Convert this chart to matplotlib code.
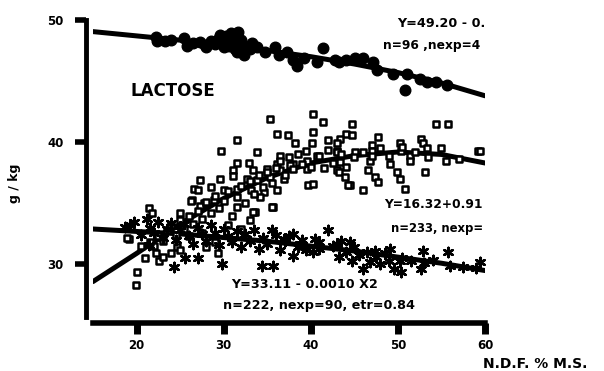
import matplotlib
matplotlib.use('Agg')
import matplotlib.pyplot as plt

# fitted curves
fit_x = [15, 20, 25, 30, 35, 40, 45, 50, 55, 60]
fit_top = [49.05, 48.7, 48.35, 47.95, 47.5, 47.0, 46.4, 45.7, 44.85, 43.8]
fit_mid = [28.6, 30.9, 33.3, 35.4, 37.1, 38.3, 38.9, 39.2, 39.0, 38.3]
fit_low = [32.9, 32.7, 32.5, 32.2, 31.9, 31.5, 31.1, 30.6, 30.1, 29.5]

# circles (n=96 series)
circ_x = [22.2, 22.4, 23.3, 24.0, 25.4, 25.8, 26.5, 27.3, 27.9, 28.0, 28.5, 29.0,
          29.5, 29.6, 30.0, 30.0, 30.3, 30.6, 30.8, 31.0, 31.1, 31.3, 31.5, 31.7,
          31.9, 32.0, 32.3, 32.5, 33.0, 33.3, 33.8, 34.8, 35.9, 36.3, 37.3, 38.0,
          38.4, 39.2, 40.7, 41.4, 42.8, 43.2, 44.1, 45.1, 46.0, 47.1, 47.6, 49.4,
          50.8, 51.0, 52.5, 53.3, 54.4, 55.6]
circ_y = [48.6, 48.3, 48.3, 48.4, 48.5, 47.9, 48.1, 48.2, 47.95, 47.8, 48.3, 48.0,
          48.5, 48.8, 47.8, 48.2, 48.7, 47.9, 48.9, 48.3, 48.4, 47.6, 47.4, 49.0,
          47.95, 48.4, 47.1, 47.8, 47.6, 48.1, 47.8, 47.4, 47.8, 47.1, 47.4, 46.7,
          46.2, 46.9, 46.6, 47.7, 46.7, 46.6, 46.7, 46.9, 46.9, 46.6, 45.9, 45.6,
          44.3, 45.6, 45.2, 44.9, 44.9, 44.7]

# open squares (n=233 series)
sq_x = [35.35, 40.3, 41.45, 36.1, 37.4, 31.5, 40.3, 42.0, 29.7, 33.8, 36.5, 38.2,
        40.1, 31.5, 32.9, 36.1, 38.0, 39.6, 40.7, 43.0, 31.1, 33.4, 35.0, 36.5,
        37.6, 39.6, 43.0, 27.3, 29.6, 31.1, 32.7, 33.8, 35.35, 36.9, 39.7, 40.3,
        26.6, 28.5, 30.0, 31.5, 33.1, 34.6, 36.1, 34.2, 26.4, 27.7, 28.85, 31.5,
        35.7, 44.7, 54.4, 55.8, 44.1, 44.7, 43.4, 47.75, 43.0, 47.0, 50.2, 52.7,
        52.9, 53.3, 55.0, 59.2, 43.0, 45.1, 47.0, 50.4, 51.4, 43.4, 46.8, 49.1,
        51.4, 43.2, 46.6, 49.9, 53.1, 43.9, 47.4, 50.2, 44.5, 46.0, 47.75, 50.8,
        21.4, 21.8, 19.1, 22.6, 20.1, 19.9, 18.9, 29.4, 33.6, 25.0, 26.2, 27.0,
        27.3, 24.7, 33.4, 35.5, 44.3, 59.4,
        22.0, 22.5, 23.0, 23.5, 24.0, 24.5, 25.0, 25.5, 26.0, 26.5, 27.0, 27.5,
        28.0, 28.5, 29.0, 29.5, 30.0, 30.5, 31.0, 31.5, 32.0, 32.5, 33.0, 33.5,
        34.0, 34.5, 35.0, 35.5, 36.0, 36.5, 37.0, 37.5, 38.0, 38.5, 39.0, 39.5,
        40.0, 41.0, 41.5, 42.0, 42.5, 43.5, 44.0, 45.0, 46.0, 47.0, 48.0, 49.0,
        50.5, 52.0, 53.5, 55.5, 57.0,
        26.0, 27.5, 29.0, 30.5, 32.0, 33.0, 28.0, 25.0, 24.0, 23.0, 22.2, 21.5,
        21.0, 20.5]
sq_y = [41.86, 42.35, 41.67, 40.7, 40.57, 40.2, 40.84, 40.2, 39.3, 39.2, 38.9, 39.9,
        39.9, 38.3, 38.3, 38.25, 38.25, 38.5, 38.9, 39.3, 37.7, 37.7, 37.8, 37.7,
        38.1, 37.8, 37.7, 36.9, 37.0, 37.2, 37.0, 36.9, 37.15, 37.0, 36.5, 36.6,
        36.2, 36.3, 36.1, 36.2, 36.1, 35.9, 36.1, 35.5, 35.25, 35.0, 35.25, 34.7,
        34.7, 41.5, 41.5, 41.5, 40.7, 40.6, 40.3, 40.4, 39.9, 39.75, 39.9, 40.3,
        39.9, 39.5, 39.5, 39.3, 39.2, 39.2, 39.3, 39.3, 38.9, 38.4, 38.5, 38.25,
        38.5, 37.6, 37.7, 37.6, 37.6, 37.15, 37.15, 37.0, 36.5, 36.1, 36.75, 36.2,
        34.6, 34.2, 32.1, 30.3, 29.4, 28.3, 32.2, 30.9, 34.3, 34.2, 35.2, 36.1,
        34.8, 31.4, 34.3, 34.7, 36.5, 39.3,
        31.5, 32.3, 31.9, 32.8, 33.2, 32.4, 33.6, 32.9, 34.0, 33.3, 34.4, 33.7,
        35.1, 34.2, 35.6, 34.6, 35.2, 36.0, 34.0, 35.5, 36.4, 35.0, 36.8, 35.8,
        37.3, 36.3, 37.6, 36.7, 37.9, 38.5, 37.3, 38.8, 37.8, 39.0, 38.2, 39.3,
        38.0, 38.9, 37.9, 39.4, 38.3, 39.0, 38.0, 38.8, 39.2, 38.9, 39.5, 38.9,
        39.6, 39.2, 38.8, 38.5, 38.6,
        32.3, 32.6, 31.8, 33.2, 32.9, 33.6, 31.4, 31.2, 30.9, 30.6, 30.9, 31.8,
        30.5, 31.5]

# asterisks (n=222 series)
st_x = [19.7, 18.7, 21.2, 21.4, 24.3, 25.6, 27.0, 29.8, 34.4, 35.7, 38.0, 35.5,
        19.3, 42.0, 44.5, 52.9, 55.8, 59.4, 44.7, 46.0, 49.5, 50.4, 52.7, 48.0,
        43.2, 49.1, 47.4, 43.0, 40.9, 38.8, 36.9, 38.0, 40.3, 46.8, 50.2,
        20.5, 21.5, 22.0, 22.5, 23.0, 23.5, 24.0, 24.5, 25.0, 25.5, 26.0, 26.5,
        27.0, 27.5, 28.0, 28.5, 29.0, 29.5, 30.0, 30.5, 31.0, 31.5, 32.0, 32.5,
        33.0, 33.5, 34.0, 34.5, 35.0, 36.0, 36.5, 37.0, 37.5, 38.5, 39.0, 39.5,
        40.5, 41.0, 42.5, 43.5, 44.0, 45.0, 45.5, 46.5, 47.5, 48.5, 49.0, 50.5,
        51.5, 53.0, 54.0, 56.0, 57.5, 59.0]
st_y = [33.5, 33.1, 33.75, 31.6, 29.8, 30.5, 30.5, 30.05, 29.9, 29.9, 32.5, 32.8,
        33.2, 32.85, 31.8, 31.1, 31.0, 30.2, 30.3, 29.65, 29.65, 29.4, 29.65, 30.05,
        30.6, 31.3, 31.1, 31.7, 31.8, 31.7, 32.1, 30.7, 31.0, 30.2, 30.3,
        32.4, 33.0, 32.6, 33.5, 32.2, 32.9, 33.4, 32.0, 32.8, 33.3, 32.3, 31.7,
        33.0, 32.5, 31.9, 33.2, 32.6, 31.6, 32.9, 32.3, 31.8, 32.7, 31.4, 32.5,
        31.9, 32.8, 31.3, 32.2, 31.7, 32.4, 31.2, 31.9, 32.3, 31.4, 32.0, 31.2,
        32.1, 31.3, 31.5, 31.9, 31.0, 31.4, 30.8, 31.0, 30.6, 30.9, 30.3, 30.5,
        30.3, 30.1, 30.4, 29.9, 29.8, 29.7]

W, H = 604, 371
fig = plt.figure(figsize=(W / 100, H / 100), dpi=100)
ax = fig.add_axes([93 / W, 1 - 317 / H, (485 - 93) / W, (317 - 20) / H])

ax.plot(fit_x, fit_top, color='black', lw=3.6, solid_capstyle='round')
ax.plot(fit_x, fit_mid, color='black', lw=3.6, solid_capstyle='round')
ax.plot(fit_x, fit_low, color='black', lw=3.6, solid_capstyle='round')

ax.scatter(circ_x, circ_y, s=58, color='black', zorder=3)
ax.scatter(sq_x, sq_y, s=20, marker='s', facecolor='white', edgecolor='black',
           linewidths=1.8, zorder=3)
ax.scatter(st_x, st_y, s=45, marker=(6, 2, 0), color='black', linewidths=1.8,
           zorder=3)

ax.set_xlim(15, 60)
ax.set_ylim(25.7, 50)
ax.set_xticks([20, 30, 40, 50, 60])
ax.set_yticks([30, 40, 50])

for s in ['top', 'right']:
    ax.spines[s].set_visible(False)
ax.spines['left'].set_position(('outward', 5))
ax.spines['bottom'].set_position(('outward', 4))
ax.spines['left'].set_linewidth(3.5)
ax.spines['bottom'].set_linewidth(4)
ax.tick_params(axis='x', length=8, width=5, pad=4, labelsize=8.5)
ax.tick_params(axis='y', length=8, width=4, pad=8, labelsize=8.5)
for lab in ax.get_xticklabels() + ax.get_yticklabels():
    lab.set_fontweight('bold')


def ftext(px, py, txt, size=8.5, **kw):
    fig.text(px / W, 1 - py / H, txt, fontsize=size, fontweight='bold',
             family='DejaVu Sans', va='center', **kw)


ftext(485, 23.5, 'Y=49.20 - 0.', ha='right', size=9.2)
ftext(480, 46, 'n=96 ,nexp=4', ha='right', size=8.8)
ftext(173, 91.5, 'LACTOSE', ha='center', size=12)
ftext(483, 204, 'Y=16.32+0.91', ha='right', size=8.8)
ftext(483, 228.5, 'n=233, nexp=', ha='right', size=8.4)
ftext(305, 285, 'Y=33.11 - 0.0010 X2', ha='center', size=9.2)
ftext(319, 306, 'n=222, nexp=90, etr=0.84', ha='center', size=9.2)
ftext(535, 364, 'N.D.F. % M.S.', ha='center', size=10)
ftext(15, 183, 'g / kg', ha='center', size=9, rotation=90)

fig.savefig('out.png', dpi=100)
